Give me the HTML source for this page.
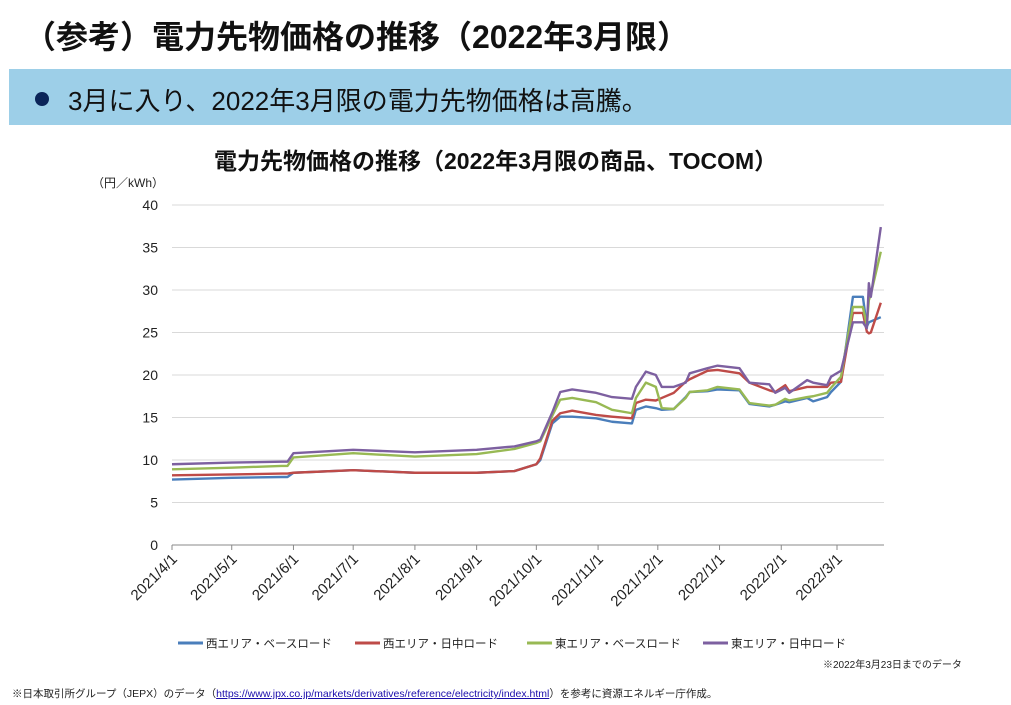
<!DOCTYPE html>
<html><head><meta charset="utf-8">
<style>
body{margin:0;width:1011px;height:705px;background:#fff;overflow:hidden;font-family:"Liberation Sans","Noto Sans CJK JP",sans-serif;position:relative}
.t{position:absolute;white-space:nowrap}
</style></head><body>
<div class="t" style="left:24px;top:12px;font-size:32px;font-weight:bold;color:#111">（参考）電力先物価格の推移（2022年3月限）</div>
<div style="position:absolute;left:9px;top:69px;width:1002px;height:56px;background:#9dcfe8"></div>
<div style="position:absolute;left:35px;top:92px;width:14px;height:14px;border-radius:50%;background:#0b2559"></div>
<div class="t" style="left:68px;top:81px;font-size:26px;color:#111">3月に入り、2022年3月限の電力先物価格は高騰。</div>
<div class="t" style="left:214px;top:142px;font-size:23px;font-weight:bold;color:#111">電力先物価格の推移（2022年3月限の商品、TOCOM）</div>
<svg id="chart" width="1011" height="705" style="position:absolute;left:0;top:0" font-family="Liberation Sans, Noto Sans CJK JP, sans-serif"></svg>
<div class="t" style="left:823px;top:656px;font-size:10px;color:#222">※2022年3月23日までのデータ</div>
<div class="t" style="left:12px;top:686px;font-size:10.5px;color:#222">※日本取引所グループ（JEPX）のデータ（<span style="color:#1a0dab;text-decoration:underline">https://www.jpx.co.jp/markets/derivatives/reference/electricity/index.html</span>）を参考に資源エネルギー庁作成。</div>
<script>
const days=[0,30,55,58,61,91,122,153,172,183,185,191,195,201,213,221,231,233,238,243,246,252,258,260,269,274,285,290,300,303,308,310,319,322,329,331,336,342,347,349,350,351,356];
const westBase=[7.7,7.9,8.0,8.0,8.5,8.8,8.5,8.5,8.7,9.5,10.0,14.3,15.1,15.1,14.9,14.5,14.3,15.9,16.3,16.1,15.9,16.0,17.4,18.0,18.1,18.3,18.2,16.6,16.3,16.5,16.9,16.8,17.3,16.9,17.4,18.0,19.2,29.2,29.2,25.7,26.2,26.3,26.8];
const westDay=[8.2,8.3,8.4,8.4,8.5,8.8,8.5,8.5,8.7,9.5,10.2,14.6,15.5,15.8,15.3,15.1,14.9,16.7,17.1,17.0,17.3,17.9,19.2,19.5,20.5,20.6,20.2,19.1,18.2,18.0,18.8,18.1,18.6,18.6,18.6,19.1,19.2,27.3,27.3,25.1,24.9,25.0,28.5];
const eastBase=[8.9,9.1,9.3,9.3,10.3,10.8,10.4,10.7,11.3,12.0,12.2,15.2,17.1,17.3,16.8,15.9,15.5,17.3,19.1,18.6,16.1,16.0,17.3,18.0,18.2,18.6,18.3,16.7,16.4,16.5,17.2,17.0,17.4,17.5,17.9,18.5,19.8,28.0,28.0,25.8,28.8,29.5,34.5];
const eastDay=[9.5,9.7,9.8,9.8,10.8,11.2,10.9,11.2,11.6,12.2,12.4,15.6,18.0,18.3,17.9,17.4,17.2,18.6,20.4,20.0,18.6,18.6,19.1,20.2,20.8,21.1,20.8,19.1,18.9,17.9,18.5,17.9,19.4,19.1,18.8,19.8,20.5,26.2,26.2,25.5,30.8,29.2,37.4];
const yTicks=[0,5,10,15,20,25,30,35,40];
const xTickDays=[0,30,61,91,122,153,183,214,244,275,306,334];
const xTickLabels=['2021/4/1','2021/5/1','2021/6/1','2021/7/1','2021/8/1','2021/9/1','2021/10/1','2021/11/1','2021/12/1','2022/1/1','2022/2/1','2022/3/1'];
const seriesNames=['西エリア・ベースロード','西エリア・日中ロード','東エリア・ベースロード','東エリア・日中ロード'];
const colors=['#4a7ebb','#be4b48','#98b954','#7d60a0'];
const seriesData=[westBase,westDay,eastBase,eastDay];
const NS='http://www.w3.org/2000/svg',svg=document.getElementById('chart');
const X0=172,X1=884,Y0=545,Y1=205;
const xs=d=>X0+d*(837-X0)/334, ys=v=>Y0-(v/40)*(Y0-Y1);
function mk(t,a,p){const e=document.createElementNS(NS,t);for(const k in a)e.setAttribute(k,a[k]);(p||svg).appendChild(e);return e;}
yTicks.forEach(v=>{
  const l=mk('line',{x1:X0,x2:X1,y1:ys(v),y2:ys(v),stroke:v===0?'#888':'#d9d9d9','stroke-width':1});
  
  
  const t=mk('text',{x:158,y:ys(v)+5,'text-anchor':'end','font-size':14,fill:'#222'});t.textContent=v;
  
  
});
const u=mk('text',{x:92,y:187,'font-size':12,fill:'#222'});u.textContent='（円／kWh）';


xTickDays.forEach((d,i)=>{
  const x=xs(d);
  const tk=mk('line',{x1:x,x2:x,y1:Y0,y2:Y0+5,stroke:'#888'});
  
  
  const t=mk('text',{x:x+6,y:Y0+15,'text-anchor':'end','font-size':15,fill:'#222',transform:`rotate(-45 ${x+6} ${Y0+15})`});
  t.textContent=xTickLabels[i];
  
  
});
seriesData.forEach((s,i)=>{
  const p=mk('polyline',{points:s.map((v,j)=>xs(days[j])+','+ys(v)).join(' '),fill:'none',stroke:colors[i],'stroke-width':2.4,'stroke-linejoin':'round'});
  
  
});
const lx=[178,355,527,703];
seriesNames.forEach((n,i)=>{
  const g=mk('g',{});
  
  
  mk('line',{x1:lx[i],x2:lx[i]+25,y1:643,y2:643,stroke:colors[i],'stroke-width':3},g);
  const t=mk('text',{x:lx[i]+28,y:647.5,'font-size':11.5,fill:'#222'},g);t.textContent=n;
});
</script>
</body></html>
